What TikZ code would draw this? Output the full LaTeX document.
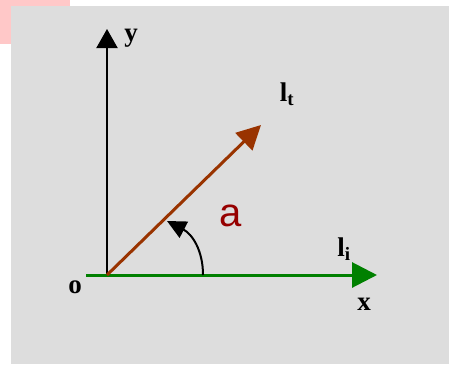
\documentclass[tikz,border=0pt]{standalone}
\usepackage{fontspec}
\setmainfont{Liberation Serif}
\newfontfamily\arialfont{Liberation Sans}
\usetikzlibrary{arrows.meta}
\definecolor{bggray}{RGB}{221,221,221}
\definecolor{pinkbox}{RGB}{255,200,200}
\definecolor{brownline}{RGB}{153,51,0}
\definecolor{greenline}{RGB}{0,128,0}
\definecolor{darkred}{RGB}{150,0,0}
\tikzset{
  lbl/.style={inner sep=0pt, font=\fontsize{27}{27}\selectfont\bfseries},
  axisline/.style={line width=2pt, -{Triangle[length=19pt,width=21pt]}},
}
\begin{document}
\begin{tikzpicture}[x=1pt,y=-1pt]
\useasboundingbox (0,0) rectangle (449,364);
\fill[white] (0,0) rectangle (449,364);
\fill[pinkbox] (0,0) rectangle (70,44);
\fill[bggray] (11,6) rectangle (449,364);
\coordinate (o) at (107,275);
\coordinate (ytip) at (107,29);
\coordinate (xstart) at (86,275);
\coordinate (xtip) at (377,275);
\coordinate (ttip) at (261,125);
\coordinate (arcstart) at (203,275);
\coordinate (arcend) at (167,221);
\draw[axisline] (o) -- (ytip);
\draw[line width=3pt, greenline, -{Triangle[length=25pt,width=25pt]}] (xstart) -- (xtip);
\draw[line width=3pt, brownline, -{Triangle[length=24pt,width=24pt]}] (o) -- (ttip);
\draw[line width=2pt, -{Triangle[length=19pt,width=18pt]}] (arcstart) .. controls (203,250) and (192,234) .. (arcend);
\node[lbl] (ylbl) at (131,38) {y};
\node[lbl] (lt) at (287,94) {l\textsubscript{t}};
\node[inner sep=0pt, text=darkred, font=\arialfont\fontsize{40}{40}\selectfont] (alpha) at (230.5,215.5) {a};
\node[lbl] (li) at (344,249) {l\textsubscript{i}};
\node[lbl] (xlbl) at (364,304) {x};
\node[lbl] (olbl) at (75,287) {o};
\end{tikzpicture}
\end{document}
